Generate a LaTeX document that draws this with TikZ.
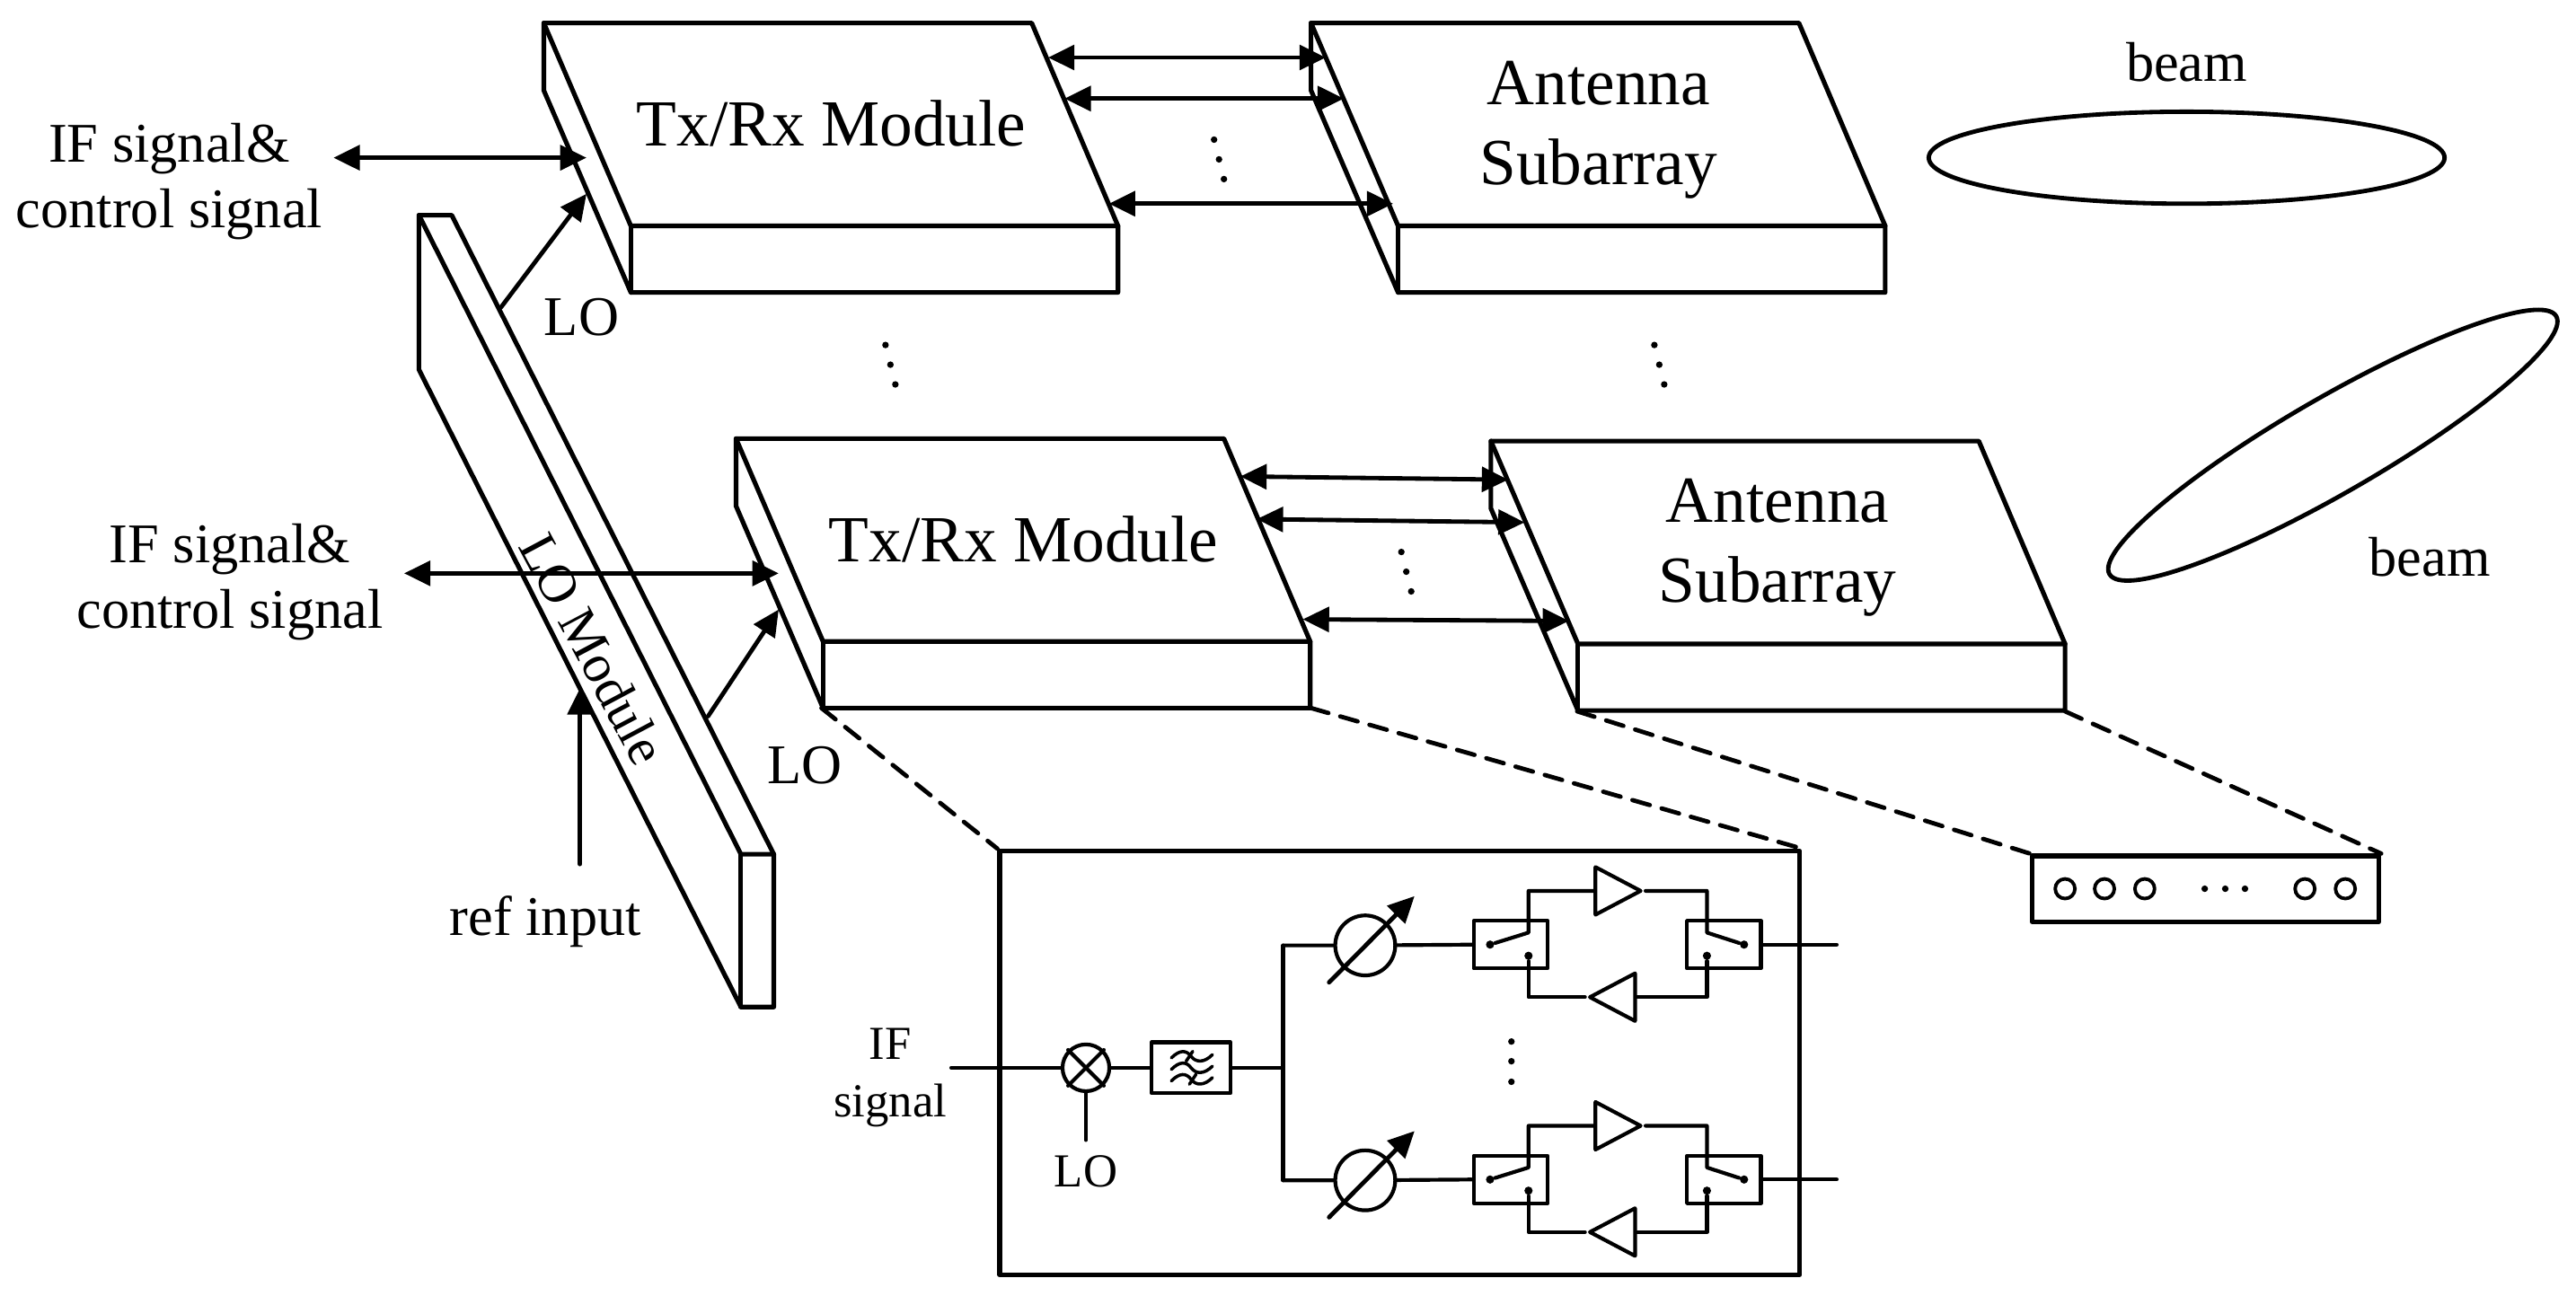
\documentclass[tikz,border=0pt]{standalone}
\usepackage{fontspec}
\setmainfont{Liberation Serif}
\usetikzlibrary{arrows.meta,positioning,shapes.geometric}

\begin{document}
\begin{tikzpicture}[x=0.1mm,y=-0.1mm,line join=round,line cap=round]

\tikzset{
  boxline/.style={line width=0.8pt},
  myarrow/.style={{Triangle[length=1.6mm,width=1.5mm]}-{Triangle[length=1.6mm,width=1.5mm]},line width=0.75pt},
  oneway/.style={-{Triangle[length=1.6mm,width=1.5mm]},line width=0.75pt},
  guide/.style={line width=0.75pt,dash pattern=on 1.1mm off 0.75mm},
  mainlab/.style={font=\fontsize{9.7}{11.4}\selectfont,align=center,inner sep=0pt},
  blocklab/.style={font=\fontsize{11.4}{13.9}\selectfont,align=center,inner sep=0pt},
  smalllab/.style={font=\fontsize{8.2}{9.9}\selectfont,align=center,inner sep=0pt},
  cdot/.style={circle,fill,inner sep=0pt,minimum size=0.4mm},
  opamp/.style={draw,isosceles triangle,isosceles triangle stretches,inner sep=0pt,minimum width=2.9mm,minimum height=2.75mm,line width=0.65pt},
  swbox/.style={draw,rectangle,inner sep=0pt,minimum width=4.5mm,minimum height=2.9mm,line width=0.65pt},
  wire/.style={line width=0.65pt}
}

    \useasboundingbox (0,0) rectangle (1568,788.9);

    % Slabs
    \foreach \sx/\sy in {0/0,117/253,467/0,576.5/254.5} {
      \begin{scope}[shift={(\sx,\sy)}]
        \draw[boxline] (331,14) -- (628,14) -- (680.5,137.5) -- (680.5,178) -- (384,178) -- (331,55) -- cycle;
        \draw[boxline] (331,14) -- (384,137.5) -- (680.5,137.5);
        \draw[boxline] (384,137.5) -- (384,178);
      \end{scope}
    }

    % LO slab
    \draw[boxline] (255,131) -- (275,131) -- (471,520) -- (471,613) -- (451,613) -- (255,225) -- cycle;
    \draw[boxline] (255,131) -- (451,520) -- (471,520);
    \draw[boxline] (451,520) -- (451,613);
    \node[mainlab,font=\fontsize{9.3}{11}\selectfont,rotate=-62] (lomod) at (361,395) {LO Module};

    % Block texts
    \node[blocklab] (txa) at (506,75) {Tx/Rx Module};
    \node[blocklab] (txb) at (623,328) {Tx/Rx Module};
    \node[blocklab] (anta) at (973,79) {Antenna\\Subarray};
    \node[blocklab] (antb) at (1082,333.5) {Antenna\\Subarray};

    % Left labels
    \node[mainlab] (ifa) at (103,110.5) {IF signal\&\\control signal};
    \node[mainlab] (ifb) at (140,354.5) {IF signal\&\\control signal};
    \node[mainlab] (loa) at (354,193) {LO};
    \node[mainlab] (lob) at (490,466) {LO};
    \node[mainlab] (refin) at (332,561) {ref input};

    % Beams
    \node[draw,ellipse,line width=0.75pt,inner sep=0pt,minimum width=31.4mm,minimum height=5.6mm] (beama) at (1331,96) {};
    \node[draw,ellipse,line width=0.75pt,inner sep=0pt,minimum width=31.4mm,minimum height=5.8mm,rotate=30] (beamb) at (1420,271) {};
    \node[mainlab] (beamtxta) at (1331,38) {beam};
    \node[mainlab] (beamtxtb) at (1479,339) {beam};

    % Ends of the arrows
    \coordinate (ifaL) at (203,96);
    \coordinate (ifaR) at (357,96);
    \coordinate (ifbL) at (246,349);
    \coordinate (ifbR) at (474,349);
    \coordinate (loaS) at (305,187);
    \coordinate (loaE) at (357,118);
    \coordinate (lobS) at (431,436);
    \coordinate (lobE) at (474,371);
    \coordinate (refS) at (353,526);
    \coordinate (refE) at (353,419);
    \draw[myarrow] (ifaL) -- (ifaR);
    \draw[myarrow] (ifbL) -- (ifbR);
    \draw[oneway] (loaS) -- (loaE);
    \draw[oneway] (lobS) -- (lobE);
    \draw[oneway] (refS) -- (refE);

    % Links, upper and lower row
    \foreach \ax/\ay/\bx/\by/\lname in {638/35/807/35/ua,648/60/818/60/ub,675/124/848/124/uc,
                                        755/290/918/292/la,765/316/928/318/lb,793/377/955/378/lc} {
      \coordinate (\lname L) at (\ax,\ay);
      \coordinate (\lname R) at (\bx,\by);
      \draw[myarrow] (\lname L) -- (\lname R);
    }

    % Dots between blocks
    \foreach \px/\py/\dname in {739/85/a1,742/97/a2,745/109/a3,853/336/b1,856/348/b2,859/360/b3,
                                539/210/c1,542/222/c2,545/234/c3,1007/210/d1,1010/222/d2,1013/234/d3,
                                920/634/e1,920/646/e2,920/658.5/e3,
                                1342/541/f1,1354.5/541/f2,1366.5/541/f3} {
      \node[cdot] (dot\dname) at (\px,\py) {};
    }

    % Zoom boxes
    \node[draw,boxline,rectangle,inner sep=0pt,minimum width=48.7mm,minimum height=25.8mm] (chain) at (852,647) {};
    \node[draw,boxline,rectangle,inner sep=0pt,minimum width=21.1mm,minimum height=4mm] (elems) at (1342.5,541) {};
    \coordinate (txfl) at (500,431);
    \coordinate (txfr) at (798,431);
    \coordinate (anfl) at (960,433);
    \coordinate (anfr) at (1257,433);
    \draw[guide] (txfl) -- (chain.north west);
    \draw[guide] (txfr) -- (chain.north east);
    \draw[guide] (anfl) -- (elems.north west);
    \draw[guide] (anfr) -- (elems.north east);

    % Elements
    \foreach \ex/\en in {1257/a,1281/b,1305.5/c,1403/d,1427.6/e} {
      \node[draw,circle,line width=0.6pt,inner sep=0pt,minimum size=1.2mm] (el\en) at (\ex,541) {};
    }

    % Mixer and filter
    \coordinate (ifin) at (579,650);
    \coordinate (lostub) at (661,694);
    \coordinate (split) at (781,650);
    \node[draw,circle,wire,inner sep=0pt,minimum size=2.85mm] (mix) at (661,650) {};
    \draw[wire] (mix.north west) -- (mix.south east);
    \draw[wire] (mix.north east) -- (mix.south west);
    \node[draw,rectangle,wire,inner sep=0pt,minimum width=4.8mm,minimum height=3.1mm] (filt) at (725,650) {};
    \foreach \wy in {-7,0,7} {
      \draw[line width=0.55pt] (713,650+\wy+1) .. controls (718,650+\wy-4) and (722,650+\wy-4) .. (725,650+\wy)
        .. controls (728,650+\wy+4) and (733,650+\wy+4) .. (738,650+\wy-1);
    }
    \draw[line width=0.55pt] (726,640) -- (722,646);
    \draw[line width=0.55pt] (728,654) -- (724,660);
    \draw[wire] (ifin) -- (mix) -- (filt) -- (split);
    \draw[wire] (mix) -- (lostub);
    \node[smalllab] (iftxt) at (542,656) {IF\\signal};
    \node[smalllab] (lotxt) at (661,713) {LO};

    % Two channels
    \foreach \cy/\cn in {0/p,143/q} {
      \coordinate (chan\cn) at (781,575.5+\cy);
      \coordinate (out\cn) at (1118,575+\cy);
      \node[draw,circle,wire,inner sep=0pt,minimum size=3.65mm] (ps\cn) at (831,575.5+\cy) {};
      \node[swbox] (swl\cn) at (919.5,575+\cy) {};
      \node[swbox] (swr\cn) at (1049.3,575+\cy) {};
      \node[opamp,anchor=west] (ampt\cn) at (970,542.3+\cy) {};
      \node[opamp,shape border rotate=180,anchor=east] (ampb\cn) at (996.4,607+\cy) {};
      \coordinate (psa\cn) at (809,598+\cy);
      \coordinate (psb\cn) at (861,545.5+\cy);
      \draw[oneway] (psa\cn) -- (psb\cn);
      \draw[wire] (chan\cn) -- (ps\cn) -- (swl\cn.west);
      \draw[wire] (swr\cn.east) -- (out\cn);
      % Left switch
      \node[circle,fill,inner sep=0pt,minimum size=0.5mm] (pl\cn) at (907,575+\cy) {};
      \node[circle,fill,inner sep=0pt,minimum size=0.5mm] (cl\cn) at (930.4,581.8+\cy) {};
      \coordinate (ul\cn) at (930.4,567.7+\cy);
      \draw[wire] (pl\cn) -- (ul\cn) |- (ampt\cn.west);
      \draw[wire] (cl\cn) |- (ampb\cn.west);
      % Right switch
      \node[circle,fill,inner sep=0pt,minimum size=0.5mm] (pr\cn) at (1061.6,575+\cy) {};
      \node[circle,fill,inner sep=0pt,minimum size=0.5mm] (cr\cn) at (1039,581.8+\cy) {};
      \coordinate (ur\cn) at (1039,567.7+\cy);
      \draw[wire] (pr\cn) -- (ur\cn) |- (ampt\cn.east);
      \draw[wire] (cr\cn) |- (ampb\cn.east);
    }
    \draw[wire] (chanp) -- (split) -- (chanq);

\end{tikzpicture}
\end{document}
